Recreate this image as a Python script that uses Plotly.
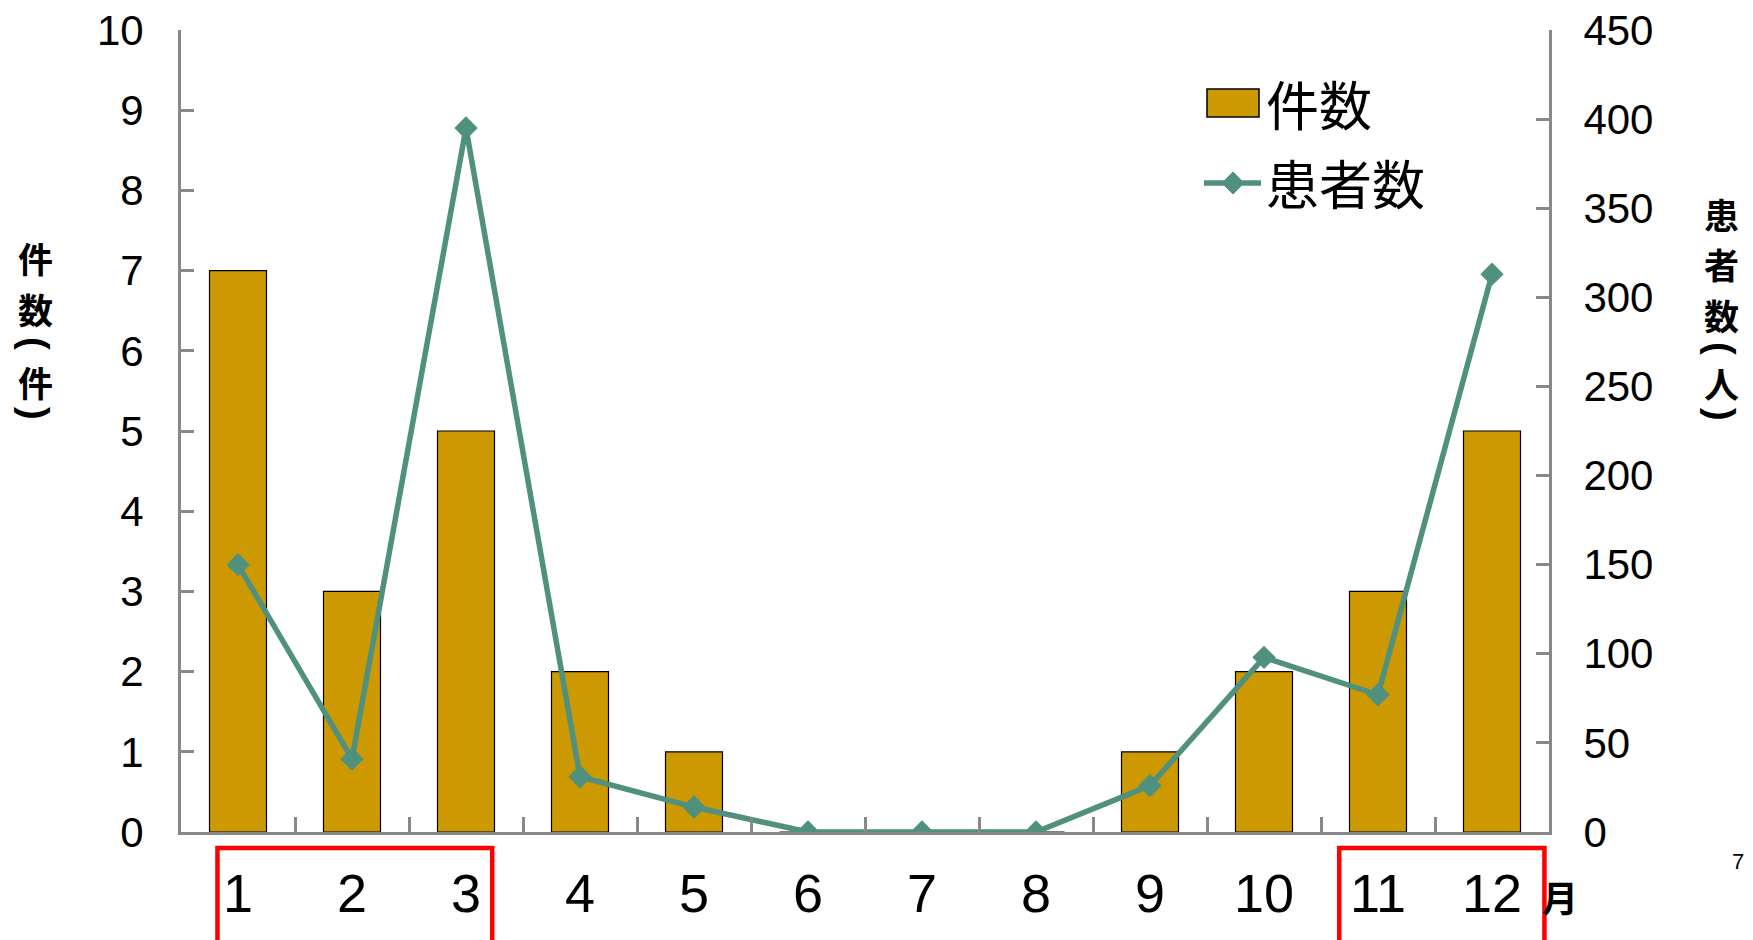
import plotly.graph_objects as go

months = ["1", "2", "3", "4", "5", "6", "7", "8", "9", "10", "11", "12"]
cases = [7, 3, 5, 2, 1, 0, 0, 0, 1, 2, 3, 5]
patients = [150, 41, 395, 31, 14, 0, 0, 0, 26, 98, 77, 313]

BAR_COLOR = "#CC9900"
LINE_COLOR = "#4F907E"
AXIS_COLOR = "#888888"
NUM_FONT = "Arial, Liberation Sans, sans-serif"
CJK_FONT = "Noto Sans CJK JP, sans-serif"

OFF = 8  # page body margin
W, H = 1753 - OFF, 940 - OFF
# plot area in page pixels: x 181..1549, y 30..832
L, R, T, B = 181 - OFF, 1753 - 1549, 30 - OFF, 940 - 832
PW, PH = 1549 - 181, 832 - 30


def px(x):
    return (x - 181) / PW


def py(y):
    return (832 - y) / PH


fig = go.Figure()
fig.add_trace(go.Bar(
    x=months, y=cases, name="件数",
    marker=dict(color=BAR_COLOR, line=dict(color="black", width=1.2)),
    yaxis="y",
))
fig.add_trace(go.Scatter(
    x=months, y=patients, name="患者数", mode="lines+markers",
    line=dict(color=LINE_COLOR, width=5.5),
    marker=dict(symbol="diamond", size=18, color=LINE_COLOR),
    yaxis="y2",
))

shapes = []
annotations = []

# red highlight boxes
for x0, x1 in [(-0.18, 2.23), (9.66, 11.46)]:
    shapes.append(dict(type="rect", xref="x", yref="paper", x0=x0, x1=x1,
                       y0=py(848), y1=py(965),
                       line=dict(color="#FF0000", width=4.5), fillcolor="rgba(0,0,0,0)"))

# custom legend
shapes.append(dict(type="rect", xref="paper", yref="paper",
                   x0=px(1207), x1=px(1259), y0=py(117), y1=py(89),
                   line=dict(color="black", width=1.5), fillcolor=BAR_COLOR))
shapes.append(dict(type="line", xref="paper", yref="paper",
                   x0=px(1204), x1=px(1261), y0=py(183), y1=py(183),
                   line=dict(color=LINE_COLOR, width=5.5)))
cx, cy, hw, hh = 1233, 183, 11, 11
shapes.append(dict(type="path", xref="paper", yref="paper",
                   path=f"M {px(cx-hw)} {py(cy)} L {px(cx)} {py(cy-hh)} L {px(cx+hw)} {py(cy)} L {px(cx)} {py(cy+hh)} Z",
                   line=dict(color=LINE_COLOR, width=1), fillcolor=LINE_COLOR))
annotations.append(dict(text="件数", xref="paper", yref="paper", x=px(1264), y=py(103),
                        xanchor="left", yanchor="middle", showarrow=False,
                        font=dict(family=CJK_FONT, size=53, color="black")))
annotations.append(dict(text="患者数", xref="paper", yref="paper", x=px(1264), y=py(182),
                        xanchor="left", yanchor="middle", showarrow=False,
                        font=dict(family=CJK_FONT, size=53, color="black")))


def vtext(text, x, y, size, angle=0, family=CJK_FONT):
    annotations.append(dict(text=text, xref="paper", yref="paper",
                            x=px(x), y=py(y), xanchor="center", yanchor="middle",
                            showarrow=False, textangle=angle,
                            font=dict(family=family, size=size, color="black")))


TS = 35  # title glyph size
# left axis title: 件数（件） stacked vertically
vtext("<b>件</b>", 35, 257.5, TS)
vtext("<b>数</b>", 35, 308.3, TS)
vtext("<b>(</b>", 35, 343, 38, 90, NUM_FONT)
vtext("<b>件</b>", 35, 381, TS)
vtext("<b>)</b>", 35, 413, 38, 90, NUM_FONT)

# right axis title: 患者数（人） stacked vertically
vtext("<b>患</b>", 1721, 213, TS)
vtext("<b>者</b>", 1721, 263.8, TS)
vtext("<b>数</b>", 1721, 314.6, TS)
vtext("<b>(</b>", 1721, 348, 38, 90, NUM_FONT)
vtext("<b>人</b>", 1721, 382, TS)
vtext("<b>)</b>", 1721, 414, 38, 90, NUM_FONT)

# month unit and page number
annotations.append(dict(text="<b>月</b>", xref="paper", yref="paper", x=px(1560), y=py(896),
                        xanchor="center", yanchor="middle", showarrow=False,
                        font=dict(family=CJK_FONT, size=36, color="black")))
annotations.append(dict(text="7", xref="paper", yref="paper", x=px(1738), y=py(861),
                        xanchor="center", yanchor="middle", showarrow=False,
                        font=dict(family=NUM_FONT, size=22, color="black")))

axis_common = dict(showline=True, linecolor=AXIS_COLOR, linewidth=3, ticks="inside",
                   tickcolor=AXIS_COLOR, tickwidth=3, showgrid=False, zeroline=False,
                   ticklabeloverflow="allow")

fig.update_layout(
    width=W, height=H,
    margin=dict(l=L, r=R, t=T, b=B, autoexpand=False),
    paper_bgcolor="white", plot_bgcolor="white",
    showlegend=False,
    bargap=0.5,
    xaxis=dict(type="category", range=[-0.5, len(months) - 0.5],
               tickson="boundaries", ticklen=15,
               tickfont=dict(family=NUM_FONT, size=54, color="black"),
               ticklabelstandoff=12, **axis_common),
    yaxis=dict(range=[0, 10], dtick=1, ticklen=13,
               tickfont=dict(family=NUM_FONT, size=42, color="black"),
               ticklabelstandoff=26, **axis_common),
    yaxis2=dict(range=[0, 450], dtick=50, ticklen=13, side="right", overlaying="y",
                tickfont=dict(family=NUM_FONT, size=42, color="black"),
                ticklabelstandoff=23, **axis_common),
    shapes=shapes,
    annotations=annotations,
)

fig.write_html("out.html")
